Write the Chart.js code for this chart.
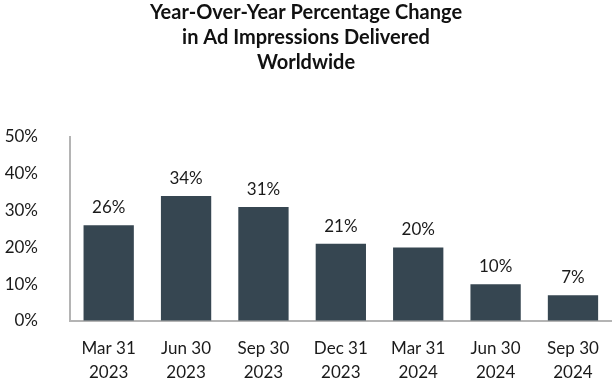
<!DOCTYPE html>
<html>
<head>
<meta charset="utf-8">
<script src="https://cdn.jsdelivr.net/npm/chart.js@4"></script>
<style>
    html, body { margin: 0; padding: 0; background: #ffffff; }
    #wrap { width: 614px; height: 384px; position: relative; }
</style>
</head>
<body>
<div id="wrap"><canvas id="chart"></canvas></div>
<script>
const quarterLabels = [
    ['Mar 31', '2023'],
    ['Jun 30', '2023'],
    ['Sep 30', '2023'],
    ['Dec 31', '2023'],
    ['Mar 31', '2024'],
    ['Jun 30', '2024'],
    ['Sep 30', '2024']
];
const yoyChange = [26, 34, 31, 21, 20, 10, 7];
const titleLines = [
    'Year-Over-Year Percentage Change',
    'in Ad Impressions Delivered',
    'Worldwide'
];

const FONT = 'Lato, "Open Sans", sans-serif';
const BAR_COLOR = '#364651';
const AXIS_COLOR = '#b4b4b4';

// percentage labels sitting above each bar
const valueLabels = {
    id: 'valueLabels',
    afterDatasetsDraw(chart) {
        const ctx = chart.ctx;
        const meta = chart.getDatasetMeta(0);
        ctx.save();
        ctx.font = `17px ${FONT}`;
        ctx.fillStyle = '#1a1a1a';
        ctx.textAlign = 'center';
        ctx.textBaseline = 'bottom';
        meta.data.forEach((bar, i) => {
            ctx.fillText(`${yoyChange[i]}%`, bar.x, bar.y - 9);
        });
        ctx.restore();
    }
};

new Chart(document.getElementById('chart'), {
    type: 'bar',
    data: {
        labels: quarterLabels,
        datasets: [{
            data: yoyChange,
            backgroundColor: BAR_COLOR,
            borderWidth: 0,
            categoryPercentage: 1,
            barPercentage: 0.65
        }]
    },
    options: {
        responsive: true,
        maintainAspectRatio: false,
        animation: false,
        layout: {
            padding: { top: 0, right: 2, left: 0, bottom: 0 }
        },
        plugins: {
            legend: { display: false },
            tooltip: { enabled: false },
            title: {
                display: true,
                text: titleLines,
                color: '#111111',
                font: { family: FONT, size: 20, weight: 'bold', lineHeight: 1.25 },
                padding: { top: 0, bottom: 62 }
            }
        },
        scales: {
            x: {
                grid: { drawOnChartArea: false, drawTicks: false },
                border: { display: true, color: AXIS_COLOR, width: 2 },
                afterFit: (scale) => { scale.height = 63; },
                ticks: {
                    color: '#1a1a1a',
                    padding: 15,
                    maxRotation: 0,
                    font: { family: FONT, size: 17, lineHeight: 1.45 }
                }
            },
            y: {
                min: 0,
                max: 50,
                grid: { drawOnChartArea: false, drawTicks: false },
                border: { display: true, color: AXIS_COLOR, width: 2 },
                afterFit: (scale) => { scale.width = 70; },
                ticks: {
                    stepSize: 10,
                    color: '#1a1a1a',
                    padding: 32,
                    font: { family: FONT, size: 17 },
                    callback: (value) => `${value}%`
                }
            }
        }
    },
    plugins: [valueLabels]
});
</script>
</body>
</html>
